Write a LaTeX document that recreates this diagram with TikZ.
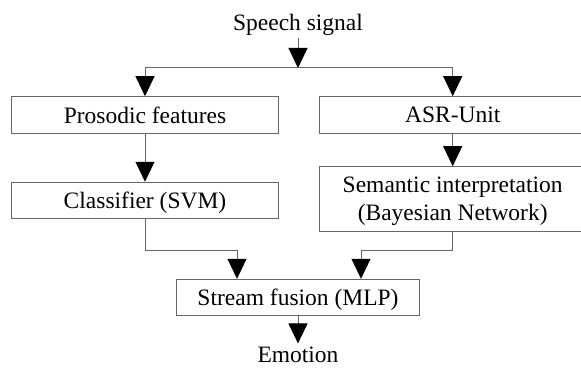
\documentclass[tikz,border=0pt]{standalone}
\usepackage{fontspec}
\setmainfont{Liberation Serif}
\usetikzlibrary{arrows.meta}

\begin{document}
\begin{tikzpicture}[x=1pt, y=-1pt, line width=1pt,
    font=\fontsize{23.5}{28}\selectfont,
    >={Triangle[width=19pt, length=20pt, color=black]},
    kutu/.style={draw=black!60, inner sep=0pt, minimum width=266.6pt, minimum height=36.6pt, text depth=0pt, align=center},
    ok/.style={->, draw=black!60}]

        \useasboundingbox (0,0) rectangle (581,369);

        % GIRIS
        \node[anchor=base, inner sep=1pt] (speech) at (298,31) {Speech signal};
        \coordinate (split) at (298,68);

        % SOL DAL
        \node[kutu] (prosodic) at (145,115) {Prosodic features};
        \node[kutu, minimum height=36.7pt] (classifier) at (145,200.6) {Classifier (SVM)};

        % SAG DAL
        \node[kutu] (asr) at (452.7,115) {ASR-Unit};
        \node[kutu, minimum height=65pt] (semantic) at (452.7,199.2) {Semantic interpretation\\(Bayesian Network)};

        % BIRLESTIRME
        \node[kutu, minimum width=243.3pt, minimum height=36pt] (fusion) at (298,297.3) {Stream fusion (MLP)};
        \node[anchor=base, inner sep=1pt] (emotion) at (298,362.5) {Emotion};

        % Oklar
        \draw[ok] (speech.south) -- (split);
        \draw[ok] (split) -| (prosodic.north);
        \draw[ok] (split) -| (asr.north);
        \draw[ok] (prosodic.south) -- (classifier.north);
        \draw[ok] (asr.south) -- (semantic.north);
        \draw[ok] (classifier.south) -- ++(0,31.5) -| ([xshift=-61pt]fusion.north);
        \draw[ok] (semantic.south) -- ++(0,18.6) -| ([xshift=63pt]fusion.north);
        \draw[ok, shorten >=2pt] (fusion.south) -- (emotion.north);
    \end{tikzpicture}
\end{document}
